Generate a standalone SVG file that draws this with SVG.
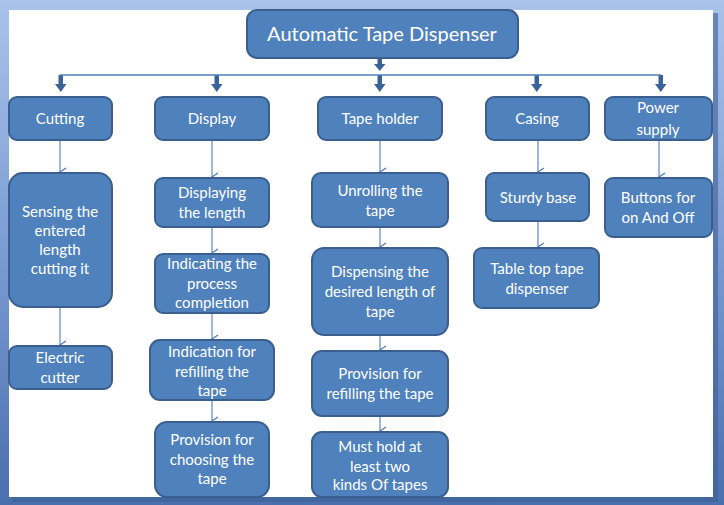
<svg xmlns="http://www.w3.org/2000/svg" width="724" height="505" viewBox="0 0 724 505">
<defs>
<linearGradient id="bg" x1="0" y1="0" x2="0" y2="1">
<stop offset="0" stop-color="#a9c3ea"/>
<stop offset="0.5" stop-color="#7b9cd3"/>
<stop offset="1" stop-color="#4a6fae"/>
</linearGradient>
<marker id="v" markerWidth="10" markerHeight="8" refX="5" refY="7" orient="auto-start-reverse" markerUnits="userSpaceOnUse" viewBox="0 0 10 8">
<path d="M1,1 L5,7 L9,1" fill="none" stroke="#4677b8" stroke-width="1.2"/>
</marker>
</defs>
<style>
.box{fill:#4f81bd;stroke:#3a5f8f;stroke-width:2}
.t{font-family:Lato,"Open Sans","Liberation Sans",sans-serif;font-size:15px;fill:#ffffff;text-anchor:middle}
.big{font-size:20px}
.ln{stroke:#4f7fbf;stroke-width:1.1;fill:none}
.thick{fill:#3a6296}
</style>
<rect x="0" y="0" width="724" height="505" fill="url(#bg)"/>
<rect x="12" y="13" width="706" height="489" fill="#3f5f95" opacity="0.6"/>
<rect x="9" y="10" width="704" height="487" fill="#ffffff"/>

<g id="connectors">
<g class="thick">
<rect x="377.5" y="59" width="4.5" height="6"/><path d="M374,64 L385.5,64 L379.75,71 Z"/>
<rect x="58.5" y="75" width="4.5" height="10"/><path d="M55,84 L66.5,84 L60.75,92 Z"/>
<rect x="214.5" y="75" width="4.5" height="10"/><path d="M211,84 L222.5,84 L216.75,92 Z"/>
<rect x="377.5" y="75" width="4.5" height="10"/><path d="M374,84 L385.5,84 L379.75,92 Z"/>
<rect x="534.5" y="75" width="4.5" height="10"/><path d="M531,84 L542.5,84 L536.75,92 Z"/>
<rect x="658.5" y="75" width="4.5" height="10"/><path d="M655,84 L666.5,84 L660.75,92 Z"/>
</g>
<line x1="60" y1="75" x2="661" y2="75" stroke="#4f7fbf" stroke-width="1.5"/>
<line class="ln" x1="60" y1="140" x2="60" y2="172" marker-end="url(#v)"/>
<line class="ln" x1="60" y1="307" x2="60" y2="345" marker-end="url(#v)"/>
<line class="ln" x1="212" y1="140" x2="212" y2="177" marker-end="url(#v)"/>
<line class="ln" x1="212" y1="227" x2="212" y2="253" marker-end="url(#v)"/>
<line class="ln" x1="212" y1="313" x2="212" y2="339" marker-end="url(#v)"/>
<line class="ln" x1="212" y1="400" x2="212" y2="421" marker-end="url(#v)"/>
<line class="ln" x1="380" y1="140" x2="380" y2="172" marker-end="url(#v)"/>
<line class="ln" x1="380" y1="227" x2="380" y2="247" marker-end="url(#v)"/>
<line class="ln" x1="380" y1="335" x2="380" y2="350" marker-end="url(#v)"/>
<line class="ln" x1="380" y1="416" x2="380" y2="431" marker-end="url(#v)"/>
<line class="ln" x1="538" y1="140" x2="538" y2="172" marker-end="url(#v)"/>
<line class="ln" x1="538" y1="221" x2="538" y2="247" marker-end="url(#v)"/>
<line class="ln" x1="659" y1="140" x2="659" y2="177" marker-end="url(#v)"/>
</g>

<g id="root">
<rect class="box" x="247" y="10" width="271" height="48" rx="10"/>
<text class="t big" x="382" y="41">Automatic Tape Dispenser</text>
</g>

<g id="cutting">
<rect class="box" x="9" y="97" width="103" height="43" rx="8"/>
<text class="t" x="60" y="124">Cutting</text>
</g>
<g id="display">
<rect class="box" x="155" y="97" width="114" height="43" rx="8"/>
<text class="t" x="212" y="124">Display</text>
</g>
<g id="tapeholder">
<rect class="box" x="318" y="97" width="124" height="43" rx="8"/>
<text class="t" x="380" y="124">Tape holder</text>
</g>
<g id="casing">
<rect class="box" x="486" y="97" width="103" height="43" rx="8"/>
<text class="t" x="537" y="124">Casing</text>
</g>
<g id="power">
<rect class="box" x="605" y="97" width="107" height="43" rx="8"/>
<text class="t" x="658" y="113">Power</text>
<text class="t" x="658" y="135">supply</text>
</g>

<g id="sensing">
<rect class="box" x="9" y="173" width="103" height="134" rx="14"/>
<text class="t" x="60" y="217">Sensing the</text>
<text class="t" x="60" y="236">entered</text>
<text class="t" x="60" y="255">length</text>
<text class="t" x="60" y="274">cutting it</text>
</g>
<g id="electric">
<rect class="box" x="9" y="346" width="103" height="43" rx="8"/>
<text class="t" x="60" y="363">Electric</text>
<text class="t" x="60" y="383">cutter</text>
</g>

<g id="displaying">
<rect class="box" x="155" y="178" width="114" height="49" rx="8"/>
<text class="t" x="212" y="198">Displaying</text>
<text class="t" x="212" y="218">the length</text>
</g>
<g id="indicating">
<rect class="box" x="155" y="254" width="114" height="59" rx="8"/>
<text class="t" x="212" y="269">Indicating the</text>
<text class="t" x="212" y="289">process</text>
<text class="t" x="212" y="308">completion</text>
</g>
<g id="indication">
<rect class="box" x="150" y="340" width="124" height="60" rx="10"/>
<text class="t" x="212" y="357">Indication for</text>
<text class="t" x="212" y="377">refilling the</text>
<text class="t" x="212" y="396">tape</text>
</g>
<g id="choosing">
<rect class="box" x="155" y="422" width="114" height="75" rx="12"/>
<text class="t" x="212" y="445">Provision for</text>
<text class="t" x="212" y="465">choosing  the</text>
<text class="t" x="212" y="484">tape</text>
</g>

<g id="unrolling">
<rect class="box" x="312" y="173" width="136" height="54" rx="9"/>
<text class="t" x="380" y="196">Unrolling the</text>
<text class="t" x="380" y="216">tape</text>
</g>
<g id="dispensing">
<rect class="box" x="312" y="248" width="136" height="87" rx="12"/>
<text class="t" x="380" y="277">Dispensing the</text>
<text class="t" x="380" y="297">desired length of</text>
<text class="t" x="380" y="317">tape</text>
</g>
<g id="refilling">
<rect class="box" x="312" y="351" width="136" height="65" rx="10"/>
<text class="t" x="380" y="379">Provision for</text>
<text class="t" x="380" y="399">refilling the tape</text>
</g>
<g id="musthold">
<rect class="box" x="312" y="432" width="136" height="65" rx="10"/>
<text class="t" x="380" y="452">Must hold at</text>
<text class="t" x="380" y="472">least two</text>
<text class="t" x="380" y="490">kinds Of tapes</text>
</g>

<g id="sturdy">
<rect class="box" x="486" y="173" width="103" height="48" rx="8"/>
<text class="t" x="538" y="203">Sturdy base</text>
</g>
<g id="tabletop">
<rect class="box" x="474" y="248" width="125" height="60" rx="8"/>
<text class="t" x="537" y="274">Table top tape</text>
<text class="t" x="537" y="294">dispenser</text>
</g>
<g id="buttons">
<rect class="box" x="605" y="178" width="107" height="59" rx="8"/>
<text class="t" x="658" y="203">Buttons for</text>
<text class="t" x="658" y="223">on And Off</text>
</g>
</svg>
